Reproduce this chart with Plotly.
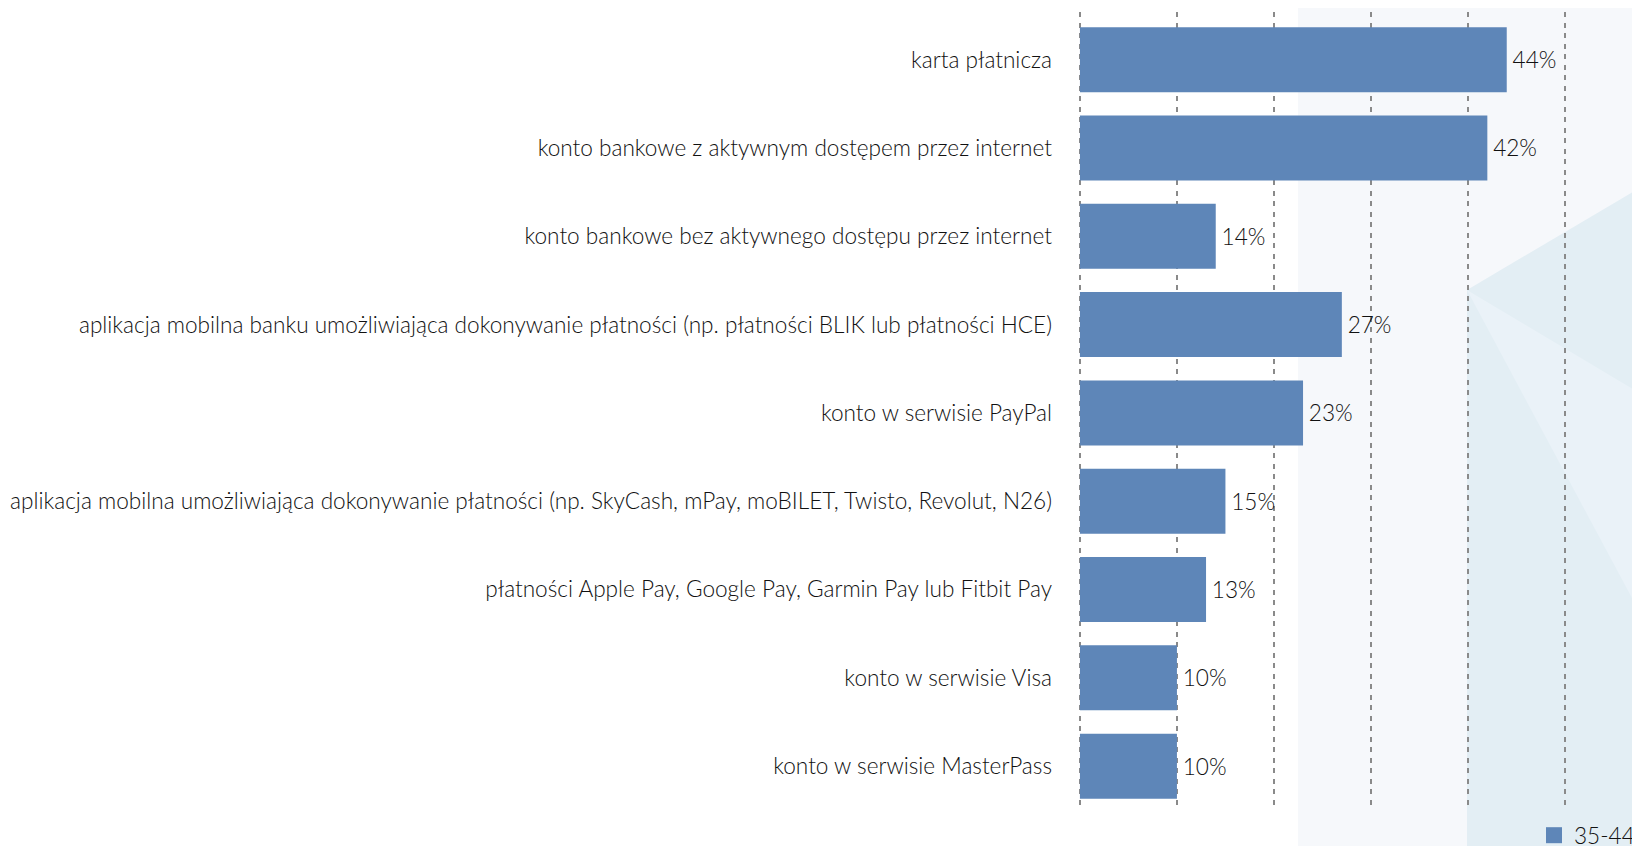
import plotly.graph_objects as go

categories = [
    "karta płatnicza",
    "konto bankowe z aktywnym dostępem przez internet",
    "konto bankowe bez aktywnego dostępu przez internet",
    "aplikacja mobilna banku umożliwiająca dokonywanie płatności (np. płatności BLIK lub płatności HCE)",
    "konto w serwisie PayPal",
    "aplikacja mobilna umożliwiająca dokonywanie płatności (np. SkyCash, mPay, moBILET, Twisto, Revolut, N26)",
    "płatności Apple Pay, Google Pay, Garmin Pay lub Fitbit Pay",
    "konto w serwisie Visa",
    "konto w serwisie MasterPass",
]
values = [44, 42, 14, 27, 23, 15, 13, 10, 10]
series_name = "35-44"
tick_vals = [0, 10, 20, 30, 40, 50]

BAR = "#5E86B8"
FONT = "Lato, 'Open Sans', sans-serif"
FS = 22.6
WT = 300
TXT = "#111111"

fig = go.Figure()
fig.add_trace(go.Bar(
    x=values, y=categories, orientation="h",
    marker=dict(color=BAR, line=dict(width=0)),
    text=[f"\u2009{v}%" for v in values], textposition="outside",
    textfont=dict(size=FS, color=TXT, family=FONT, weight=WT),
    cliponaxis=False, showlegend=False, hoverinfo="x+y",
))
fig.add_trace(go.Scatter(
    x=[None], y=[None], mode="markers", name=series_name,
    marker=dict(symbol="square", size=16, color=BAR),
))

# page is offset by the 8px body margin; figure coordinates = page - 8
W, H = 1640, 846
L, R, T, B = 1070, 0, 4, 49
pw, ph = W - L - R, H - T - B

def px(x):
    return (x - L) / pw

def py(y):
    return (H - B - y) / ph

shapes = [
    dict(type="rect", xref="paper", yref="paper", x0=px(1290), x1=px(1640), y0=py(846), y1=py(-10),
         fillcolor="#f6f8fb", line=dict(width=0), layer="below"),
    dict(type="path", xref="paper", yref="paper",
         path=f"M{px(1459)},{py(282)} L{px(1640)},{py(175)} L{px(1640)},{py(846)} L{px(1459)},{py(846)} Z",
         fillcolor="#e3eef4", line=dict(width=0), layer="below"),
    dict(type="path", xref="paper", yref="paper",
         path=f"M{px(1459)},{py(282)} L{px(1640)},{py(390)} L{px(1640)},{py(620)} Z",
         fillcolor="#eaf2f8", line=dict(width=0), layer="below"),
]

fig.update_layout(
    width=W, height=H,
    margin=dict(l=L, r=R, t=T, b=B, autoexpand=False),
    paper_bgcolor="white", plot_bgcolor="rgba(0,0,0,0)",
    font=dict(family=FONT, size=FS, color=TXT, weight=WT),
    bargap=0.264,
    shapes=shapes,
    showlegend=True,
    legend=dict(orientation="h", xref="container", yref="container",
                x=1526 / W, xanchor="left", y=(H - 806) / H, yanchor="top",
                font=dict(size=FS, color=TXT, weight=WT), bgcolor="rgba(0,0,0,0)",
                itemsizing="trace"),
    xaxis=dict(range=[-0.2, (pw / 9.7) - 0.2], tickvals=tick_vals, showticklabels=False,
               showgrid=True, gridcolor="#8a8a8a", gridwidth=2, griddash="5px,5.5px",
               zeroline=False, showline=False, ticks=""),
    yaxis=dict(range=[8.44, -0.54], showgrid=False, zeroline=False, showline=False,
               ticks="", ticklabelstandoff=25, automargin=False,
               tickfont=dict(size=FS, color=TXT, family=FONT, weight=WT)),
)

fig.write_html("out.html")
